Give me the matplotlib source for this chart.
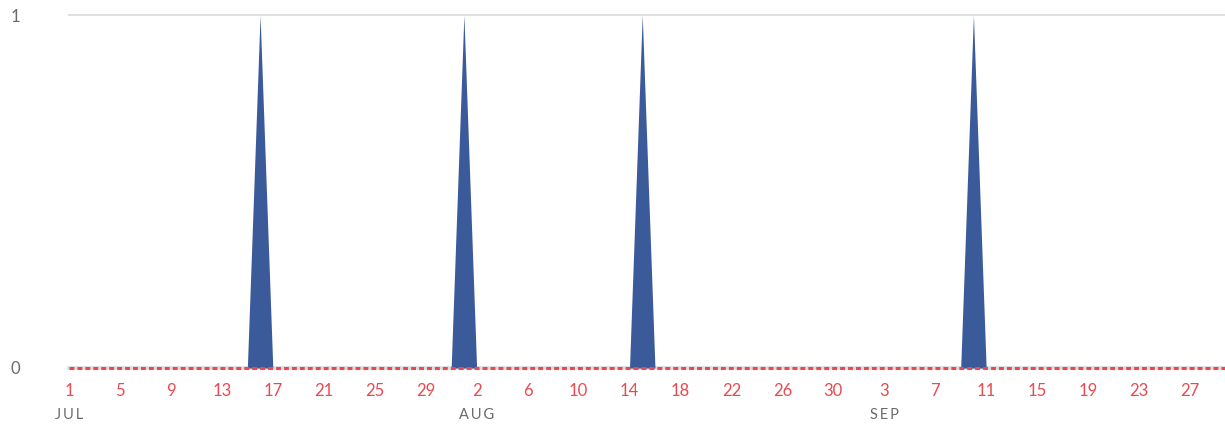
import matplotlib.pyplot as plt
import matplotlib.dates as mdates
import pandas as pd

# Daily series, Jul 1 - Sep 30
start_date = "2023-07-01"
end_date = "2023-09-30"
event_dates = ["2023-07-16", "2023-08-01", "2023-08-15", "2023-09-10"]
event_values = [1, 1, 1, 1]
target_value = 0
y_ticks = [0, 1]
month_labels = ["JUL", "AUG", "SEP"]

days = pd.date_range(start_date, end_date, freq="D")
values = pd.Series(0, index=days, dtype=float)
for d, v in zip(event_dates, event_values):
    values[pd.Timestamp(d)] = v

BLUE = "#3b5a9a"
RED = "#ea4a4f"
GRAY_TXT = "#6b6b6b"

fig = plt.figure(figsize=(12.25, 4.24), dpi=100)
ax = fig.add_axes([69 / 1225, 1 - 368 / 424, 1 - 69 / 1225, (368 - 15) / 424])

x = mdates.date2num(days.to_pydatetime())
ax.fill_between(x, 0, values.values, color=BLUE, linewidth=0, zorder=2)

# grid line at top, baseline + dotted target line (not clipped at axes edge)
ax.axhline(1, color="#dcdcdc", lw=1.3, zorder=1, clip_on=False)
ax.axhline(0, color="#d8dde3", lw=2.6, zorder=1, clip_on=False)
ax.axhline(target_value, color=RED, lw=2.2, ls=(0, (1.6, 1.0)), zorder=3,
           clip_on=False)

x0 = x[0]
ax.set_xlim(x0, x0 + 90.75)
ax.set_ylim(0, 1)

for s in ax.spines.values():
    s.set_visible(False)

# x ticks every 4 days
tick_x = x[::4]
tick_days = days[::4]
ax.set_xticks(tick_x)
ax.set_xticklabels([str(d.day) for d in tick_days], fontsize=12, color=RED,
                   fontfamily="Lato")
ax.tick_params(axis="x", length=0, pad=11)

ax.set_yticks(y_ticks)
ax.set_yticklabels([str(v) for v in y_ticks], fontsize=12, color=GRAY_TXT,
                   fontfamily="Lato", ha="left")
ax.tick_params(axis="y", length=0, pad=42)

# month labels under the first tick of each month (letter spaced)
seen = set()
mi = 0
for tx, d in zip(tick_x, tick_days):
    if d.month not in seen:
        seen.add(d.month)
        ax.text(tx, -0.112, "\u2009".join(month_labels[mi]),
                transform=ax.get_xaxis_transform(), ha="center", va="top",
                fontsize=10.5, color=GRAY_TXT, fontfamily=["Lato", "DejaVu Sans"],
                clip_on=False)
        mi += 1

fig.savefig("out.png", dpi=100)
